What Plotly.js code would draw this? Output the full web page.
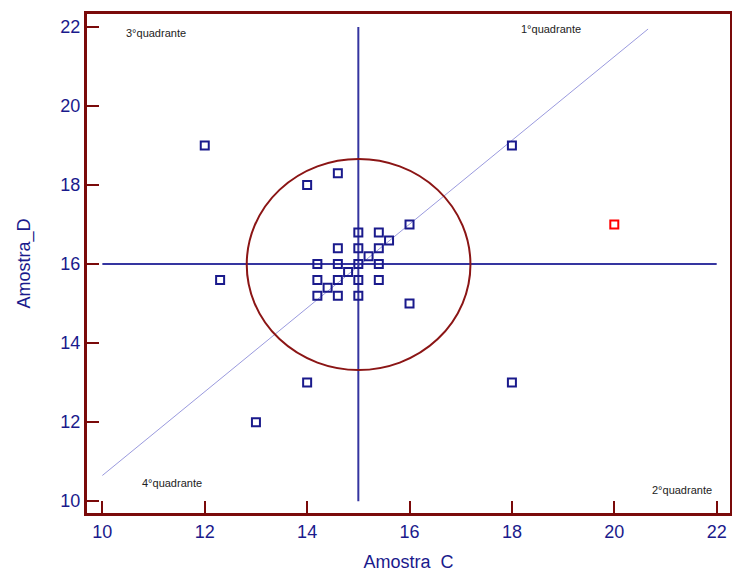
<!DOCTYPE html>
<html><head><meta charset="utf-8">
<script src="https://cdn.plot.ly/plotly-3.0.1.min.js"></script>
<style>body{margin:0;padding:0;background:#fff}#chart{width:732px;height:572px}</style>
</head><body><div id="chart"></div>
<script>
var amostraC = [12, 14, 14.6, 18, 16, 12.3, 14, 13, 18, 16,
  15, 15.4, 15.6, 14.6, 15, 15.4, 15.2, 14.2, 14.6, 15, 15.4, 14.8,
  14.2, 14.6, 15, 15.4, 14.4, 14.2, 14.6, 15];
var amostraD = [19, 18, 18.3, 19, 17, 15.6, 13, 12, 13, 15,
  16.8, 16.8, 16.6, 16.4, 16.4, 16.4, 16.2, 16, 16, 16, 16, 15.8,
  15.6, 15.6, 15.6, 15.6, 15.4, 15.2, 15.2, 15.2];
var outlierC = [20];
var outlierD = [17];
var hLineX = [10, 22], hLineY = [16, 16];
var vLineX = [15, 15], vLineY = [10, 22];
var diagX = [10, 20.66], diagY = [10.65, 21.95];
var circleBox = {x0: 12.82, x1: 17.19, y0: 13.32, y1: 18.66};
var tickVals = [10, 12, 14, 16, 18, 20, 22];
var quadLabels = [
  {text: '3°quadrante', x: 11.05, y: 21.85},
  {text: '1°quadrante', x: 18.77, y: 21.95},
  {text: '4°quadrante', x: 11.36, y: 10.45},
  {text: '2°quadrante', x: 21.32, y: 10.28}
];

var navy = '#1a1a8c';
var frame = '#7a0a0a';
var traces = [
  {x: diagX, y: diagY, mode: 'lines', line: {color: '#9a9ade', width: 1}, hoverinfo: 'skip'},
  {x: hLineX, y: hLineY, mode: 'lines', line: {color: '#3535a0', width: 2}},
  {x: vLineX, y: vLineY, mode: 'lines', line: {color: '#3535a0', width: 2}},
  {x: amostraC, y: amostraD, mode: 'markers',
   marker: {symbol: 'square-open', size: 8, color: navy, line: {width: 2, color: navy}}},
  {x: outlierC, y: outlierD, mode: 'markers',
   marker: {symbol: 'square-open', size: 8, color: '#ff0000', line: {width: 2, color: '#ff0000'}}}
];
var axisCommon = {
  showline: true, linecolor: frame, linewidth: 3, mirror: true,
  ticks: 'inside', ticklen: 12, tickwidth: 2, tickcolor: frame,
  tickvals: tickVals, showgrid: false, zeroline: false,
  tickfont: {family: 'Liberation Sans, Arial, sans-serif', size: 18, color: navy}
};
var layout = {
  width: 732, height: 572,
  margin: {l: 87, r: 2, t: 14, b: 59},
  paper_bgcolor: '#fff', plot_bgcolor: '#fff',
  showlegend: false,
  xaxis: Object.assign({}, axisCommon, {range: [9.70, 22.26],
    title: {text: 'Amostra\u00a0\u00a0C', standoff: 18, font: {family: 'Liberation Sans, Arial, sans-serif', size: 18, color: navy}}}),
  yaxis: Object.assign({}, axisCommon, {range: [9.70, 22.33],
    title: {text: 'Amostra_D', standoff: 26, font: {family: 'Liberation Sans, Arial, sans-serif', size: 18, color: navy}}}),
  shapes: [{type: 'circle', xref: 'x', yref: 'y', x0: circleBox.x0, x1: circleBox.x1, y0: circleBox.y0, y1: circleBox.y1,
    line: {color: '#8b1515', width: 2}}],
  annotations: quadLabels.map(function(q){return {text: q.text, x: q.x, y: q.y, xref: 'x', yref: 'y', showarrow: false,
    font: {family: 'Liberation Sans, Arial, sans-serif', size: 11, color: '#222'}};})
};
Plotly.newPlot('chart', traces, layout, {displayModeBar: false});
</script></body></html>
